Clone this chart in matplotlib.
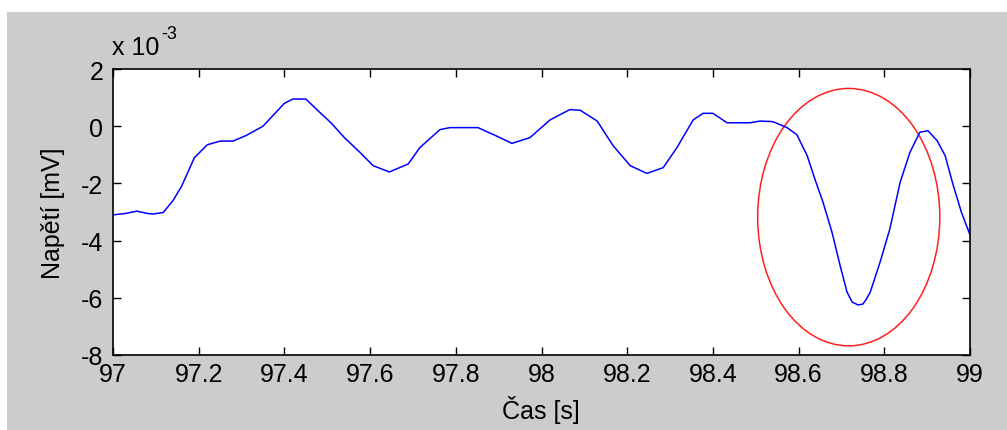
import numpy as np
import matplotlib
matplotlib.use('Agg')
import matplotlib.pyplot as plt
from matplotlib.patches import Ellipse, Rectangle

plt.rcParams['font.family'] = ['Liberation Sans', 'DejaVu Sans']

# time [s] and voltage (in units of 1e-3 mV)
t = [97.00, 97.03, 97.056, 97.08, 97.093, 97.117, 97.14, 97.16, 97.19, 97.22,
     97.25, 97.28, 97.31, 97.35, 97.40, 97.42, 97.45, 97.48, 97.51, 97.54,
     97.576, 97.607, 97.645, 97.689, 97.716, 97.763, 97.786, 97.852, 97.896, 97.931,
     97.973, 98.02, 98.066, 98.09, 98.13, 98.167, 98.207, 98.246, 98.284, 98.316,
     98.354, 98.377, 98.40, 98.433, 98.487, 98.51, 98.54, 98.573, 98.596, 98.62,
     98.638, 98.657, 98.678, 98.697, 98.713, 98.725, 98.739, 98.75, 98.758, 98.767,
     98.79, 98.813, 98.837, 98.86, 98.883, 98.902, 98.923, 98.942, 98.96, 98.98, 99.00]
v = [-3.10, -3.05, -2.97, -3.05, -3.07, -3.02, -2.60, -2.10, -1.10, -0.65,
     -0.52, -0.52, -0.33, 0.00, 0.80, 0.95, 0.95, 0.52, 0.10, -0.40,
     -0.91, -1.38, -1.60, -1.32, -0.75, -0.12, -0.05, -0.05, -0.35, -0.60,
     -0.40, 0.22, 0.58, 0.56, 0.18, -0.68, -1.38, -1.65, -1.45, -0.75,
     0.22, 0.45, 0.45, 0.12, 0.12, 0.18, 0.16, -0.05, -0.30, -1.03,
     -1.85, -2.66, -3.71, -4.88, -5.80, -6.15, -6.25, -6.22, -6.05, -5.81,
     -4.76, -3.59, -1.96, -0.91, -0.21, -0.16, -0.50, -1.03, -2.02, -3.01, -3.80]

xticks = [97, 97.2, 97.4, 97.6, 97.8, 98, 98.2, 98.4, 98.6, 98.8, 99]
xticklabels = ['97', '97.2', '97.4', '97.6', '97.8', '98', '98.2', '98.4', '98.6', '98.8', '99']
yticks = [-8, -6, -4, -2, 0, 2]

# highlighted region (ellipse centre / size in data units)
ell_center = (98.717, -3.18)
ell_w, ell_h = 0.425, 9.0

W, H = 1007, 431
fig = plt.figure(figsize=(W / 100, H / 100), dpi=100, facecolor='white')
# gray MATLAB-like window background, white strip at top and left
fig.patches.append(Rectangle((7 / W, 0), 1 - 7 / W, 1 - 13 / H,
                             transform=fig.transFigure, facecolor='#cccccc',
                             edgecolor='none', zorder=-1))

ax = fig.add_axes([113 / W, 1 - 356 / H, (970 - 113) / W, (356 - 70) / H])
ax.set_facecolor('white')
ax.plot(t, v, color='#0000ff', lw=1.1)
ax.add_patch(Ellipse(ell_center, ell_w, ell_h, fill=False, edgecolor='#ff2020', lw=1.1))

ax.set_xlim(97, 99)
ax.set_ylim(-8, 2)
ax.set_xticks(xticks)
ax.set_xticklabels(xticklabels)
ax.set_yticks(yticks)
ax.set_yticklabels([str(y) for y in yticks])
ax.tick_params(direction='in', length=6, width=1, top=True, right=True,
               labelsize=18, colors='black')
ax.tick_params(axis='y', pad=7)
ax.tick_params(axis='x', pad=5)
for s in ax.spines.values():
    s.set_linewidth(1.2)

# MATLAB style exponent label above the axes
fig.text(112 / W, 1 - 55 / H, 'x 10', fontsize=18, ha='left', va='baseline')
fig.text(161 / W, 1 - 39 / H, '-3', fontsize=13, ha='left', va='baseline')

fig.text(53 / W, 1 - 213 / H, 'Napětí [mV]', rotation=90, ha='center', va='center', fontsize=18)
fig.text(541 / W, 1 - 410 / H, 'Čas [s]', ha='center', va='center', fontsize=18)

fig.savefig('out.png', dpi=100, facecolor=fig.get_facecolor())
